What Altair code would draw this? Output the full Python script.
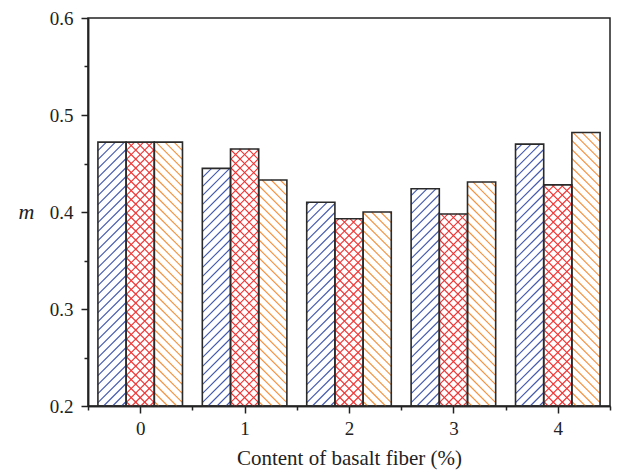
import altair as alt
import pandas as pd
import numpy as np

# ---- data ----
fiber_content = [0, 1, 2, 3, 4]
series_names = ["S1", "S2", "S3"]
s1_values = [0.472, 0.445, 0.410, 0.424, 0.470]
s2_values = [0.472, 0.465, 0.393, 0.398, 0.428]
s3_values = [0.472, 0.433, 0.400, 0.431, 0.482]
x_ticks = [0, 1, 2, 3, 4]
y_ticks = [0.2, 0.3, 0.4, 0.5, 0.6]

# ---- layout / style ----
W, H = 522, 388
X_DOMAIN = [-0.5, 4.5]
Y_DOMAIN = [0.2, 0.6]
BAR_W = 0.27
KX = W / (X_DOMAIN[1] - X_DOMAIN[0])   # px per x unit
KY = H / (Y_DOMAIN[1] - Y_DOMAIN[0])   # px per y unit
SPACING = 9.0
COLORS = {"S1": "#4358ad", "S2": "#f03434", "S3": "#f5923e"}
HATCH = {"S1": ["/"], "S2": ["/", "\\"], "S3": ["\\"]}
FONT = "Liberation Serif"

rows = []
for s_i, (name, vals) in enumerate(zip(series_names, [s1_values, s2_values, s3_values])):
    for g, v in zip(fiber_content, vals):
        rows.append({"series": name, "group": g, "value": v,
                     "x0": g + (s_i - 1.5) * BAR_W, "x1": g + (s_i - 0.5) * BAR_W,
                     "base": Y_DOMAIN[0]})
bars = pd.DataFrame(rows)

# hatch segments derived from each bar's extent
seg = []
for r in rows:
    w = (r["x1"] - r["x0"]) * KX
    h = (r["value"] - r["base"]) * KY
    for kind in HATCH[r["series"]]:
        if kind == "/":
            c = -w + (SPACING / 2)
            while c < h:
                u0, u1 = max(0.0, -c), min(w, h - c)
                if u1 > u0:
                    seg.append({"series": r["series"],
                                "xa": r["x0"] + u0 / KX, "xb": r["x0"] + u1 / KX,
                                "ya": r["base"] + (u0 + c) / KY, "yb": r["base"] + (u1 + c) / KY})
                c += SPACING
        else:
            c = SPACING / 2
            while c < h + w:
                u0, u1 = max(0.0, c - h), min(w, c)
                if u1 > u0:
                    seg.append({"series": r["series"],
                                "xa": r["x0"] + u0 / KX, "xb": r["x0"] + u1 / KX,
                                "ya": r["base"] + (c - u0) / KY, "yb": r["base"] + (c - u1) / KY})
                c += SPACING
hatch = pd.DataFrame(seg)

xscale = alt.Scale(domain=X_DOMAIN, nice=False, zero=False)
yscale = alt.Scale(domain=Y_DOMAIN, nice=False, zero=False)
color_scale = alt.Scale(domain=series_names, range=[COLORS[s] for s in series_names])

axis_common = dict(domainColor="#222222", domainWidth=1.5, tickColor="#222222", tickWidth=1.5,
                   labelFont=FONT, labelFontSize=19, labelColor="#222222",
                   titleFont=FONT, titleColor="#222222", titleFontWeight="normal",
                   grid=False)

hatch_layer = alt.Chart(hatch).mark_rule(strokeWidth=1.1).encode(
    x=alt.X("xa:Q", scale=xscale,
            axis=alt.Axis(values=x_ticks, format="d", orient="bottom", tickSize=7,
                          labelPadding=6, title="Content of basalt fiber (%)", titlePadding=9,
                          titleFontSize=21, **axis_common)),
    x2="xb:Q",
    y=alt.Y("ya:Q", scale=yscale,
            axis=alt.Axis(values=y_ticks, format=".1f", orient="left", tickSize=7,
                          labelPadding=8, title="m", titleAngle=0, titleFontStyle="italic",
                          titleFontSize=22,
                          titleX=-62, titleY=193, titleAlign="center", titleBaseline="middle",
                          **axis_common)),
    y2="yb:Q",
    color=alt.Color("series:N", scale=color_scale, legend=None),
)

minor_x = [g - 0.5 for g in fiber_content] + [fiber_content[-1] + 0.5]
minor_y = [0.25, 0.35, 0.45, 0.55]

bar_layer = alt.Chart(bars).mark_bar(fillOpacity=0, stroke="#2a2a2a", strokeWidth=1.6).encode(
    x=alt.X("x0:Q", scale=xscale,
            axis=alt.Axis(values=minor_x, orient="bottom", tickSize=4, labels=False, title=None,
                          **axis_common)),
    x2="x1:Q",
    y=alt.Y("value:Q", scale=yscale,
            axis=alt.Axis(values=minor_y, orient="left", tickSize=4, labels=False, title=None,
                          **axis_common)),
    y2="base:Q",
)

chart = alt.layer(hatch_layer, bar_layer).resolve_axis(x="independent", y="independent").properties(
    width=W, height=H,
    autosize=alt.AutoSizeParams(type="none"),
    padding={"left": 88, "top": 18, "right": 8, "bottom": 66},
    background="white",
).configure_view(stroke="#222222", strokeWidth=1.5)

chart.save("out.html", embed_options={"renderer": "svg", "actions": False})
